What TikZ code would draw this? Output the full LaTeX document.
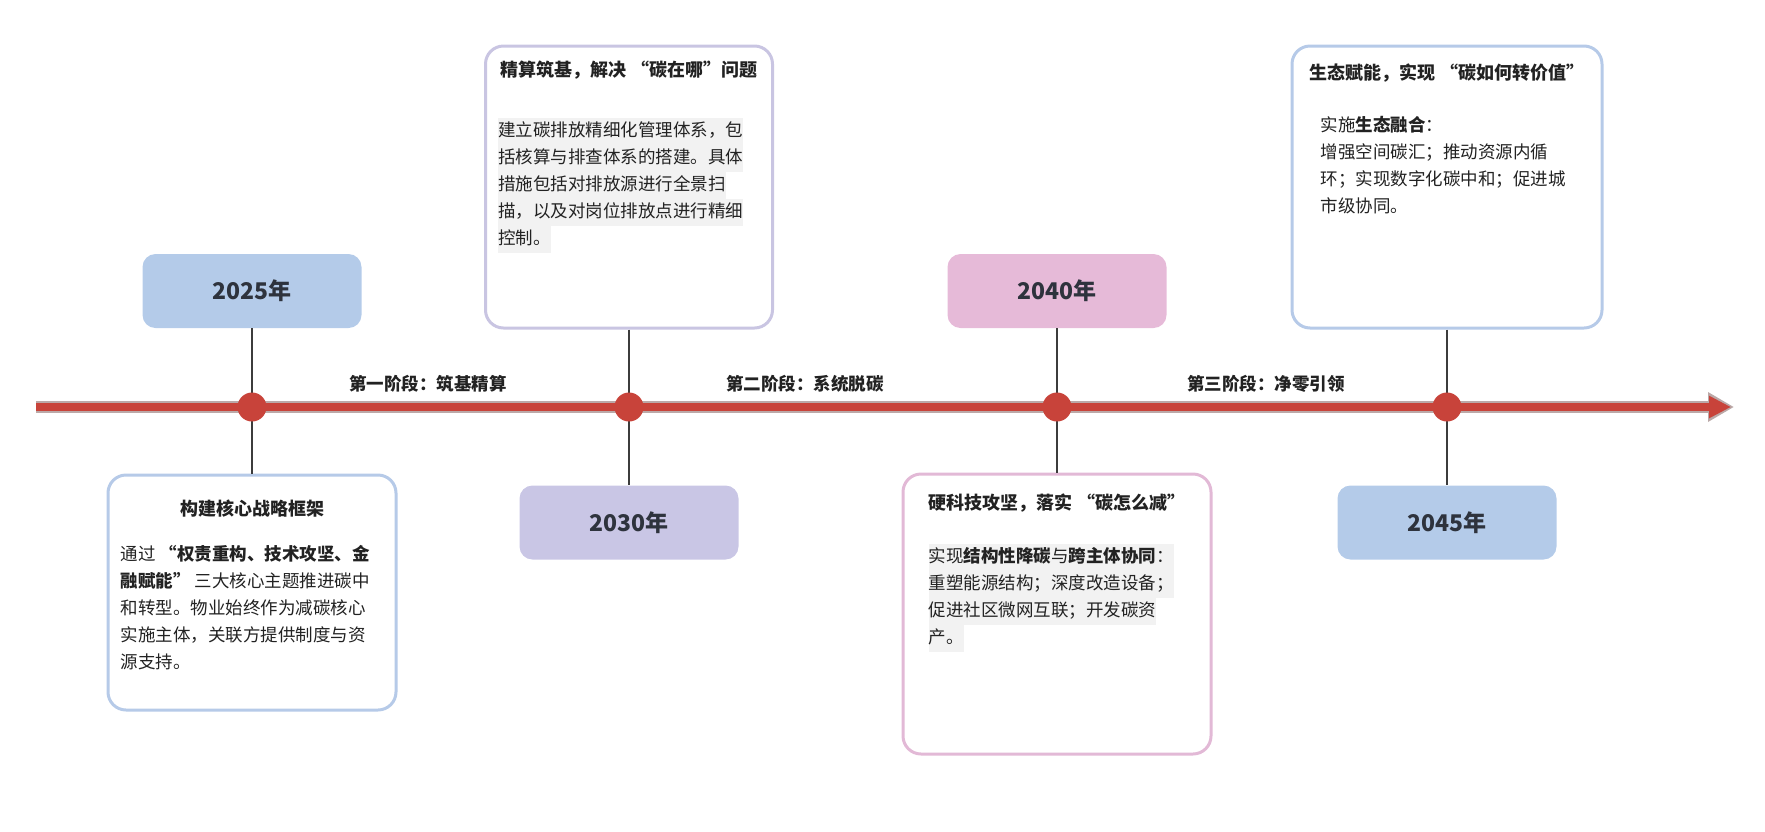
\documentclass[tikz,border=0pt]{standalone}
\usepackage{fontspec}
\setmainfont{Noto Sans CJK SC}
\usetikzlibrary{positioning,arrows.meta,calc}
\definecolor{ink}      {HTML}{222222}
\definecolor{yearink}  {HTML}{2E333D}
\definecolor{barred}   {HTML}{C8433A}
\definecolor{baredge}  {HTML}{BBA9A8}
\definecolor{skyfill}  {HTML}{B4CBE9}
\definecolor{skyline}  {HTML}{B6CAE8}
\definecolor{lilacfill}{HTML}{C9C6E5}
\definecolor{lilacline}{HTML}{C9C5E2}
\definecolor{rosefill} {HTML}{E6BAD8}
\definecolor{roseline} {HTML}{E2B9D6}
\definecolor{hlgray}   {HTML}{F2F2F2}
\definecolor{stemgray} {HTML}{3C3C3C}
\newcommand{\hl}[1]{{\setlength{\fboxsep}{0pt}\colorbox{hlgray}{\strut#1}}}
\tikzset{
  every node/.style={font=\fontsize{17.5}{27}\selectfont, text=ink},
  % --- nodes
  yearbox/.style = {rounded corners=13pt, minimum width=219pt, minimum height=74pt,
                    inner sep=0pt, font=\fontsize{23}{27}\selectfont\bfseries, text=yearink},
  card/.style    = {rounded corners=18pt, line width=3pt, fill=white, inner sep=0pt},
  ctitle/.style  = {inner sep=0pt, font=\fontsize{18}{27}\selectfont\bfseries},
  cbody/.style   = {anchor=north west, align=left, inner sep=0pt,
                    execute at begin node=\strut},
  phase/.style   = {inner sep=0pt, font=\fontsize{17.5}{27}\selectfont\bfseries},
  dot/.style     = {circle, fill=barred, minimum size=29pt, inner sep=0pt},
  % --- edges
  stem/.style    = {draw=stemgray, line width=1.3pt},
  barback/.style = {draw=baredge, line width=12pt, -{Triangle[length=26pt,width=28pt]}},
  barfront/.style= {draw=barred, line width=8pt, -{Triangle[length=22pt,width=21pt]}},
}
\begin{document}
\begin{tikzpicture}[x=1pt,y=-1pt]
  \useasboundingbox (0,0) rectangle (1765,831);

  % years
  \node[yearbox, fill=skyfill]   (y2025) at (252,291)    {2025年};
  \node[yearbox, fill=lilacfill] (y2030) at (629,522.5)  {2030年};
  \node[yearbox, fill=rosefill]  (y2040) at (1057,291)   {2040年};
  \node[yearbox, fill=skyfill]   (y2045) at (1447,522.5) {2045年};

  % cards
  \node[card, draw=skyline,   minimum width=288pt, minimum height=235pt] (c2025) at (252,592.5) {};
  \node[card, draw=lilacline, minimum width=287pt, minimum height=282pt] (c2030) at (629,187)   {};
  \node[card, draw=roseline,  minimum width=308pt, minimum height=280pt] (c2040) at (1057,614)  {};
  \node[card, draw=skyline,   minimum width=310pt, minimum height=282pt] (c2045) at (1447,187)  {};

  \node[ctitle] (t2025) at ([yshift=-35pt]c2025.north) {构建核心战略框架};
  \node[cbody] (b2025) at ([xshift=14pt,yshift=-72pt]c2025.north west)
    {通过 \textbf{“权责重构、技术攻坚、金}\\\textbf{融赋能”} 三大核心主题推进碳中\\和转型。物业始终作为减碳核心\\实施主体，关联方提供制度与资\\源支持。};

  \node[ctitle] (t2030) at ([yshift=-26pt]c2030.north) {精算筑基，解决 “碳在哪”问题};
  \node[cbody] (b2030) at ([xshift=14pt,yshift=-73pt]c2030.north west)
    {\hl{建立碳排放精细化管理体系，包}\\\hl{括核算与排查体系的搭建。具体}\\\hl{措施包括对排放源进行全景扫}\\\hl{描，以及对岗位排放点进行精细}\\\hl{控制。}};

  \node[ctitle] (t2040) at ([yshift=-31pt]c2040.north) {硬科技攻坚，落实 “碳怎么减”};
  \node[cbody] (b2040) at ([xshift=27pt,yshift=-71pt]c2040.north west)
    {\hl{实现\textbf{结构性降碳}与\textbf{跨主体协同}：}\\\hl{重塑能源结构；深度改造设备；}\\\hl{促进社区微网互联；开发碳资}\\\hl{产。}};

  \node[ctitle] (t2045) at ([yshift=-29pt]c2045.north) {生态赋能，实现 “碳如何转价值”};
  \node[cbody] (b2045) at ([xshift=30pt,yshift=-72pt]c2045.north west)
    {实施\textbf{生态融合}：\\增强空间碳汇；推动资源内循\\环；实现数字化碳中和；促进城\\市级协同。};

  % stems
  \draw[stem] (y2025.south) -- (c2025.north);
  \draw[stem] (c2030.south) -- (y2030.north);
  \draw[stem] (y2040.south) -- (c2040.north);
  \draw[stem] (c2045.south) -- (y2045.north);

  % timeline
  \coordinate (tl0) at (36,407);
  \coordinate (tl1) at (1734,407);
  \draw[barback]  (tl0) -- (tl1);
  \draw[barfront] (tl0) -- ([xshift=-3pt]tl1);

  \node[dot] (d2025) at (252,407) {};
  \node[dot] (d2030) at (629,407) {};
  \node[dot] (d2040) at (1057,407) {};
  \node[dot] (d2045) at (1447,407) {};

  \node[phase] (ph1) at (428,384)  {第一阶段：筑基精算};
  \node[phase] (ph2) at (805,384)  {第二阶段：系统脱碳};
  \node[phase] (ph3) at (1266,384) {第三阶段：净零引领};
\end{tikzpicture}
\end{document}
